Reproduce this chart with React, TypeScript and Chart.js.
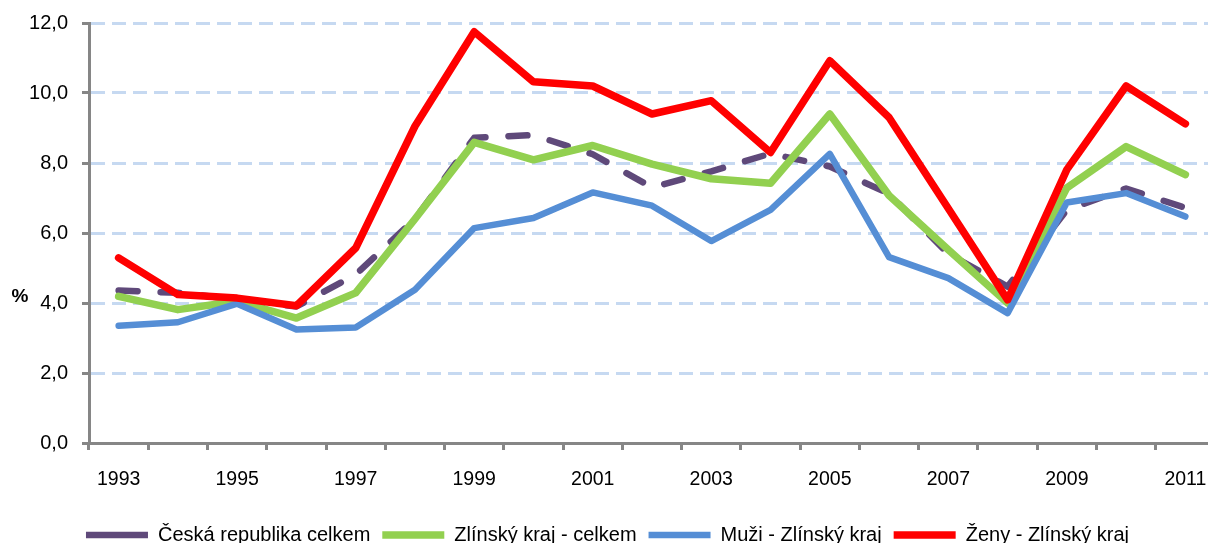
import React, { useEffect, useRef } from "react";
import { Chart, registerables } from "chart.js";

Chart.register(...registerables);

const years = ["1993","1994","1995","1996","1997","1998","1999","2000","2001","2002","2003","2004","2005","2006","2007","2008","2009","2010","2011"];
const ceskaRepublika = [4.36, 4.29, 4.1, 3.9, 4.81, 6.4, 8.72, 8.8, 8.25, 7.3, 7.76, 8.27, 7.9, 7.12, 5.4, 4.47, 6.66, 7.27, 6.72];
const zlinskyKraj = [4.19, 3.81, 4.05, 3.57, 4.29, 6.4, 8.59, 8.09, 8.5, 7.97, 7.55, 7.42, 9.4, 7.07, 5.52, 4.0, 7.29, 8.47, 7.67];
const muzi = [3.35, 3.45, 3.98, 3.24, 3.3, 4.38, 6.14, 6.43, 7.16, 6.78, 5.77, 6.66, 8.26, 5.31, 4.71, 3.71, 6.87, 7.14, 6.47];
const zeny = [5.29, 4.24, 4.14, 3.92, 5.57, 9.05, 11.75, 10.32, 10.2, 9.4, 9.78, 8.3, 10.92, 9.3, 6.7, 4.09, 7.81, 10.2, 9.12];
const seriesNames = ["Česká republika celkem", "Zlínský kraj - celkem", "Muži - Zlínský kraj", "Ženy - Zlínský kraj"];
const yAxisTitle = "%";

const FONT = "'Liberation Sans', Arial, sans-serif";
const AXIS = "#868686";

export default function App() {
  const ref = useRef<HTMLCanvasElement | null>(null);
  useEffect(() => {
    if (!ref.current) return;
    const titlePlugin = {
      id: "yTitle",
      afterDraw(chart: any) {
        const ctx = chart.ctx;
        const y = chart.scales.y;
        ctx.save();
        ctx.font = `bold 19px ${FONT}`;
        ctx.fillStyle = "#000";
        ctx.textAlign = "center";
        ctx.textBaseline = "middle";
        ctx.fillText(yAxisTitle, 20, y.getPixelForValue(4) - 6);
        ctx.restore();
      },
    };
    const common = { pointRadius: 0, tension: 0, borderCapStyle: "round", borderJoinStyle: "round" };
    const chart = new Chart(ref.current, {
      type: "line",
      data: {
        labels: years,
        datasets: [
          { ...common, label: seriesNames[0], data: ceskaRepublika, borderColor: "#5f497a", backgroundColor: "#5f497a", borderWidth: 6.5, borderDash: [19, 23], order: 4 },
          { ...common, label: seriesNames[1], data: zlinskyKraj, borderColor: "#92d050", backgroundColor: "#92d050", borderWidth: 7.5, order: 3 },
          { ...common, label: seriesNames[2], data: muzi, borderColor: "#558ed5", backgroundColor: "#558ed5", borderWidth: 6.5, order: 2 },
          { ...common, label: seriesNames[3], data: zeny, borderColor: "#ff0000", backgroundColor: "#ff0000", borderWidth: 7.5, order: 1 },
        ] as any,
      },
      options: {
        animation: false,
        responsive: true,
        maintainAspectRatio: false,
        layout: { padding: { left: 0, right: 25, top: 10, bottom: -12 } },
        plugins: {
          tooltip: { enabled: false },
          legend: {
            position: "bottom",
            labels: {
              usePointStyle: true,
              pointStyle: "line",
              pointStyleWidth: 62,
              boxHeight: 20,
              padding: 12,
              color: "#000",
              font: { family: FONT, size: 20 },
              sort: (a: any, b: any) => a.datasetIndex - b.datasetIndex,
            },
          },
        },
        scales: {
          x: {
            offset: true,
            afterFit: (scale: any) => { scale.height = 70; },
            grid: { offset: true, drawOnChartArea: false, drawTicks: true, tickLength: 7, tickColor: AXIS, tickWidth: 3 },
            border: { display: true, color: AXIS, width: 3 },
            ticks: {
              autoSkip: false,
              maxRotation: 0,
              padding: 18,
              color: "#000",
              font: { family: FONT, size: 19.5 },
              callback: (_v: any, i: number) => (i % 2 === 0 ? years[i] : ""),
            },
          },
          y: {
            min: 0,
            max: 12,
            afterFit: (scale: any) => { scale.width = 89; },
            grid: { color: "#c6d9f1", lineWidth: 3, tickLength: 7, tickColor: AXIS, tickWidth: 3, tickBorderDash: [] },
            border: { display: true, color: AXIS, width: 3, dash: [14, 7] },
            ticks: {
              stepSize: 2,
              padding: 14,
              color: "#000",
              font: { family: FONT, size: 20, lineHeight: 0.9 },
              callback: (v: any) => Number(v).toFixed(1).replace(".", ","),
            },
          },
        },
      } as any,
      plugins: [titlePlugin],
    });
    return () => chart.destroy();
  }, []);
  return (
    <div style={{ position: "fixed", left: 0, top: 0, width: 1208, height: 543, overflow: "hidden", background: "#fff" }}>
      <div style={{ position: "relative", width: 1240, height: 543 }}>
        <canvas ref={ref} />
      </div>
    </div>
  );
}
